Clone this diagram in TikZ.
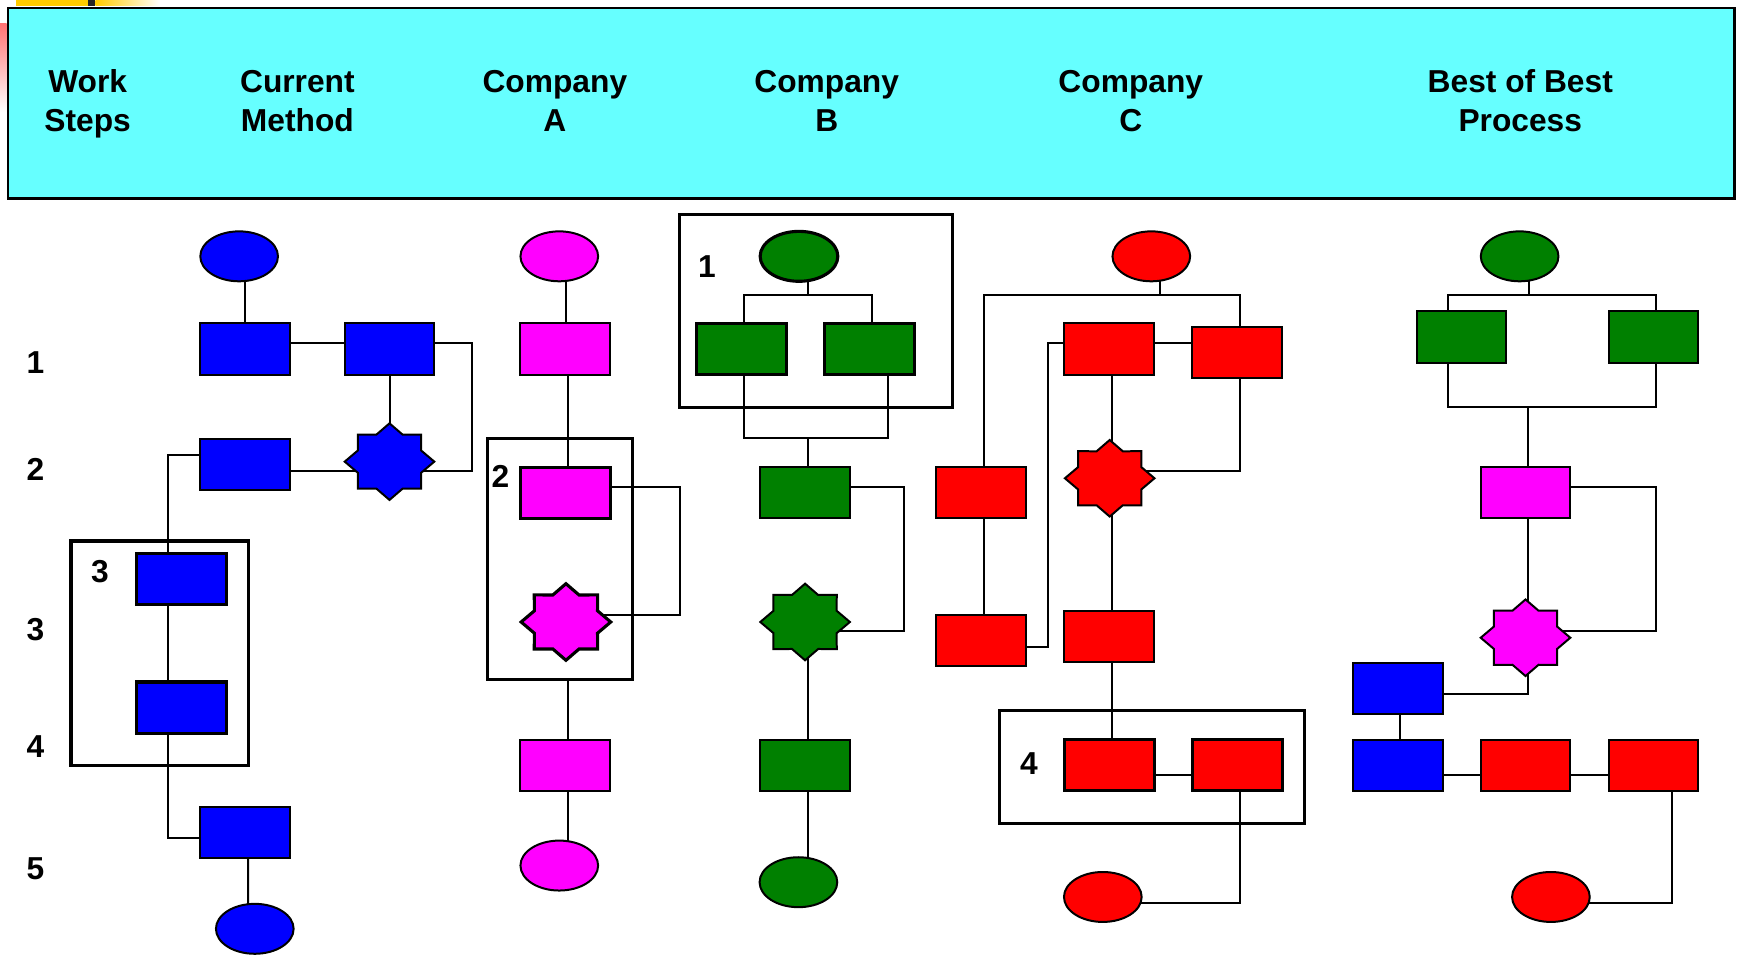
\documentclass[tikz,border=0pt]{standalone}
\usepackage{fontspec}
\setmainfont{Liberation Sans}
\usetikzlibrary{shapes.geometric,calc}
\pgfdeclarelayer{bg}
\pgfsetlayers{bg,main}

\definecolor{hdrcyan}{HTML}{66FFFF}
\definecolor{cblue}{HTML}{0000FF}
\definecolor{cmag}{HTML}{FF00FF}
\definecolor{cgreen}{HTML}{008000}
\definecolor{cred}{HTML}{FF0000}
\definecolor{baryellow}{HTML}{FFCC00}

\tikzset{
  stepbox/.style={rectangle, draw=black, line width=0.9pt, minimum width=40.5pt,
    minimum height=23pt, inner sep=0pt},
  endpoint/.style={ellipse, draw=black, line width=0.9pt, minimum width=35pt,
    minimum height=22.5pt, inner sep=0pt},
  decide/.style={star, star points=8, star point ratio=1.31, draw=black,
    line width=0.9pt, minimum size=34.5pt, inner sep=0pt},
  picked/.style={line width=1.4pt},
  group/.style={rectangle, draw=black, line width=1.4pt, inner sep=0pt},
  link/.style={draw=black, line width=0.9pt},
  hdr/.style={font=\bfseries\fontsize{14.3}{17.3}\selectfont, align=center, inner sep=0pt},
  num/.style={font=\bfseries\fontsize{14.3}{17}\selectfont, inner sep=0pt},
}

% eight-point star, stretched sideways: [extra style]{name}{x}{y}{fill}
\newcommand\decision[5][]{%
  \begin{scope}[shift={(#3,#4)}, xscale=1.17]
    \node[decide, fill=#5, transform shape, #1] (#2) at (0,0) {};
  \end{scope}}

\begin{document}
\begin{tikzpicture}[x=0.5pt, y=-0.5pt]
\useasboundingbox (0,0) rectangle (1568,861);

% slide decoration in the corner
\fill[baryellow] (14,0) rectangle (79,5);
\fill[black!85] (79,0) rectangle (86,5);
\shade[left color=baryellow, right color=white] (86,0) rectangle (144,5);
\shade[top color=red!55, bottom color=white] (0,21) rectangle (6,101);

% header band
\node[rectangle, draw=black, line width=1.1pt, fill=hdrcyan, minimum width=778pt,
  minimum height=86pt, inner sep=0pt] (header) at (785,93) {};
\node[hdr] (hWork) at (79,94) {\strut Work\\\strut Steps};
\node[hdr] (hCur) at (268,94) {\strut Current\\\strut Method};
\node[hdr] (hA) at (500,94) {\strut Company\\\strut A};
\node[hdr] (hB) at (745,94) {\strut Company\\\strut B};
\node[hdr] (hC) at (1019,94) {\strut Company\\\strut C};
\node[hdr] (hBest) at (1370,94) {\strut Best of Best\\\strut Process};

% work step numbers
\node[num] (n1) at (32,327) {1};
\node[num] (n2) at (32,423) {2};
\node[num] (n3) at (32,567) {3};
\node[num] (n4) at (32,673) {4};
\node[num] (n5) at (32,783) {5};

% ---- current method
\node[endpoint, fill=cblue] (cu0) at (215.5,231) {};
\node[stepbox, fill=cblue] (cu1a) at (221,314.5) {};
\node[stepbox, fill=cblue] (cu1b) at (351,314.5) {};
\decision{cuS}{351}{416}{cblue}
\node[stepbox, fill=cblue] (cu2) at (221,419) {};
\node[stepbox, picked, fill=cblue] (cu3a) at (163.5,522) {};
\node[stepbox, picked, fill=cblue] (cu3b) at (163.5,637.6) {};
\node[stepbox, fill=cblue] (cu5) at (221,750.5) {};
\node[endpoint, fill=cblue] (cuE) at (229.6,837) {};
\node[group, minimum width=80pt, minimum height=101.25pt] (grp3) at (144,588.75) {};
\node[num] (g3n) at (90,515) {3};

% ---- company A
\node[endpoint, fill=cmag] (ca0) at (504,231) {};
\node[stepbox, fill=cmag] (ca1) at (509.5,314.5) {};
\node[stepbox, picked, fill=cmag] (ca2) at (509.5,444) {};
\decision[picked]{caS}{510}{560.5}{cmag}
\node[stepbox, fill=cmag] (ca4) at (509.5,689.5) {};
\node[endpoint, fill=cmag] (caE) at (504,780) {};
\node[group, minimum width=65.5pt, minimum height=108.5pt] (grp2) at (504.5,503.5) {};
\node[num] (g2n) at (451,429) {2};

% ---- company B
\node[group, minimum width=123.25pt, minimum height=87pt] (grp1) at (735.25,280) {};
\node[num] (g1n) at (637,240) {1};
\node[endpoint, picked, fill=cgreen] (cb0) at (720,231) {};
\node[stepbox, picked, fill=cgreen] (cb1a) at (668,314.5) {};
\node[stepbox, picked, fill=cgreen] (cb1b) at (783.5,314.5) {};
\node[stepbox, fill=cgreen] (cb2) at (725.5,444) {};
\decision{cbS}{725.5}{560.5}{cgreen}
\node[stepbox, fill=cgreen] (cb4) at (725.5,689.5) {};
\node[endpoint, fill=cgreen] (cbE) at (719.5,795) {};

% ---- company C
\node[endpoint, fill=cred] (cc0) at (1037.5,231) {};
\node[stepbox, fill=cred] (cc1a) at (999.5,314.5) {};
\node[stepbox, fill=cred] (cc1b) at (1115,318) {};
\decision{ccS}{1000}{431}{cred}
\node[stepbox, fill=cred] (cc2) at (884,444) {};
\node[stepbox, fill=cred] (cc3a) at (884,577.5) {};
\node[stepbox, fill=cred] (cc3b) at (999.5,574) {};
\node[group, minimum width=137.5pt, minimum height=50.75pt] (grp4) at (1038,691.25) {};
\node[num] (g4n) at (927.3,688) {4};
\node[stepbox, picked, fill=cred] (cc4a) at (999.5,689.4) {};
\node[stepbox, picked, fill=cred] (cc4b) at (1115,689.4) {};
\node[endpoint, fill=cred] (ccE) at (993.8,808.3) {};

% ---- best of best
\node[endpoint, fill=cgreen] (bb0) at (1369.4,231) {};
\node[stepbox, fill=cgreen] (bb1a) at (1317,303.7) {};
\node[stepbox, fill=cgreen] (bb1b) at (1490,303.7) {};
\node[stepbox, fill=cmag] (bb2) at (1374.7,444) {};
\decision{bbS}{1374.7}{574.7}{cmag}
\node[stepbox, fill=cblue] (bb3) at (1259.4,620.8) {};
\node[stepbox, fill=cblue] (bb4a) at (1259.4,689.4) {};
\node[stepbox, fill=cred] (bb4b) at (1374.7,689.4) {};
\node[stepbox, fill=cred] (bb4c) at (1490,689.4) {};
\node[endpoint, fill=cred] (bbE) at (1397.6,808.3) {};

% ---- connectors, kept behind the shapes
\begin{pgfonlayer}{bg}
% current method
\draw[link] (cu1a.center) -- (cu1a.center |- cu0.center);
\draw[link] ($(cu1a.center)+(0,-5.5)$) -- ($(cu1b.center)+(0,-5.5)$);
\draw[link] ($(cu1b.center)+(0,-5.5)$) -- ++(74,0) |- ($(cuS.center)+(0,8)$);
\draw[link] (cu1b.center) -- (cuS.center);
\draw[link] ($(cu2.center)+(0,5)$) -- ($(cuS.center)+(0,8)$);
\draw[link] ($(cu2.center)+(0,-9)$) -| ($(cu3a.center)+(-12.5,0)$);
\draw[link] ($(cu3a.center)+(-12.5,0)$) -- ($(cu3b.center)+(-12.5,0)$);
\draw[link] ($(cu3b.center)+(-12.5,0)$) |- ($(cu5.center)+(0,4.5)$);
\draw[link] ($(cu5.center)+(2.5,0)$) -- ($(cuE.center)+(-6,0)$);
% company A
\draw[link] ($(ca0.center)+(6,0)$) -- ($(ca1.center)+(0.5,0)$);
\draw[link] ($(ca1.center)+(2,0)$) -- ($(ca2.center)+(2,0)$);
\draw[link] ($(ca2.center)+(0,-5.5)$) -- ++(103,0) |- ($(caS.center)+(0,-6.5)$);
\draw[link] ($(grp2.south)+(7,0)$) -- ($(ca4.center)+(2,0)$);
\draw[link] ($(ca4.center)+(2,0)$) -- ($(caE.center)+(7.5,0)$);
% company B
\draw[link] ($(cb0.center)+(8,0)$) -- ++(0,35);
\draw[link] ($(cb1a.center)+(2.5,0)$) |- ($(cb0.center)+(8,35)$) -| ($(cb1b.center)+(2,0)$);
\draw[link] ($(cb1a.center)+(2.5,0)$) |- ($(cb1b.center)+(16.5,80.5)$) -- ($(cb1b.center)+(16.5,0)$);
\draw[link] ($(cb2.center)+(2.3,-49)$) -- ($(cb2.center)+(2.3,0)$);
\draw[link] ($(cb2.center)+(0,-5.5)$) -- ++(89,0) |- ($(cbS.center)+(0,8)$);
\draw[link] ($(cbS.center)+(2.3,0)$) -- ($(cb4.center)+(2.3,0)$);
\draw[link] ($(cb4.center)+(2.3,0)$) -- ($(cbE.center)+(8.3,0)$);
% company C
\draw[link] ($(cc0.center)+(8,0)$) -- ++(0,35);
\draw[link] ($(cc2.center)+(2.7,0)$) |- ($(cc0.center)+(8,35)$) -| ($(cc1b.center)+(2.5,0)$);
\draw[link] ($(cc1a.center)+(0,-5.5)$) -- ($(cc1b.center)+(0,-9)$);
\draw[link] ($(cc1a.center)+(0,-5.5)$) -| ($(cc3a.center)+(60,5.5)$) -- ($(cc3a.center)+(0,5.5)$);
\draw[link] ($(cc1a.center)+(2.3,0)$) -- ($(ccS.center)+(1.8,0)$);
\draw[link] ($(cc1b.center)+(2.5,0)$) |- ($(ccS.center)+(0,-7)$);
\draw[link] ($(cc2.center)+(2.7,0)$) -- ($(cc3a.center)+(2.7,0)$);
\draw[link] ($(ccS.center)+(1.8,0)$) -- ($(cc3b.center)+(2.3,0)$);
\draw[link] ($(cc3b.center)+(2.5,0)$) -- ($(cc4a.center)+(2.5,0)$);
\draw[link] ($(cc4a.center)+(0,9)$) -- ($(cc4b.center)+(0,9)$);
\draw[link] ($(cc4b.center)+(2.5,0)$) |- ($(ccE.center)+(0,5)$);
% best of best
\draw[link] ($(bb0.center)+(8,0)$) -- ++(0,35);
\draw[link] ($(bb1a.center)+(-12.4,0)$) |- ($(bb0.center)+(8,35)$) -| ($(bb1b.center)+(2.3,0)$);
\draw[link] ($(bb1a.center)+(-12.4,0)$) |- ($(bb2.center)+(2.6,-77.5)$) -| ($(bb1b.center)+(2.3,0)$);
\draw[link] ($(bb2.center)+(2.6,-77.5)$) -- ($(bb2.center)+(2.6,0)$);
\draw[link] ($(bb2.center)+(0,-5.5)$) -- ++(117.6,0) |- ($(bbS.center)+(0,-6)$);
\draw[link] ($(bb2.center)+(2.6,0)$) -- ($(bbS.center)+(2.6,0)$);
\draw[link] ($(bbS.center)+(2.6,0)$) |- ($(bb3.center)+(0,5)$);
\draw[link] ($(bb3.center)+(2.2,0)$) -- ($(bb4a.center)+(2.2,0)$);
\draw[link] ($(bb4a.center)+(0,9)$) -- ($(bb4b.center)+(0,9)$);
\draw[link] ($(bb4b.center)+(0,9)$) -- ($(bb4c.center)+(0,9)$);
\draw[link] ($(bb4c.center)+(16.5,0)$) |- ($(bbE.center)+(0,5)$);
\end{pgfonlayer}
\end{tikzpicture}
\end{document}
